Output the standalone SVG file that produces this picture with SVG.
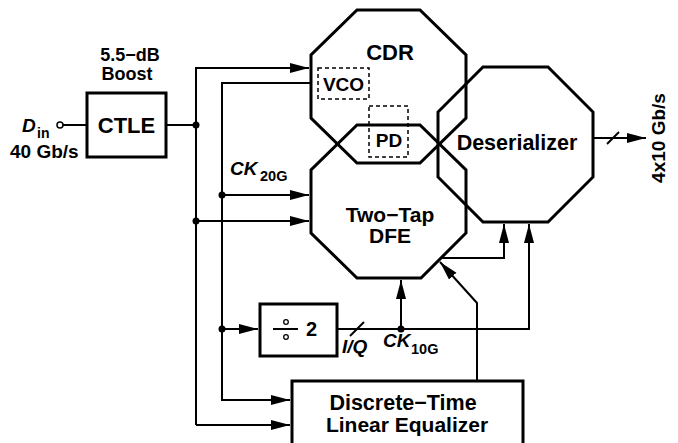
<svg xmlns="http://www.w3.org/2000/svg" width="678" height="443" viewBox="0 0 678 443">
<style>
.blk{fill:none;stroke:#000;stroke-width:3;stroke-linejoin:miter}
.dash{fill:none;stroke:#000;stroke-width:1.5;stroke-dasharray:4,3}
.w{fill:none;stroke:#000;stroke-width:2}
.t{font-family:"Liberation Sans",Arial,sans-serif;font-weight:bold;fill:#000}
.it{font-family:"Liberation Sans",Arial,sans-serif;font-weight:bold;font-style:italic;fill:#000}
.dot{fill:#000}
</style>
<defs>
<marker id="ah" markerUnits="userSpaceOnUse" markerWidth="20" markerHeight="12" refX="19" refY="6" orient="auto" viewBox="0 0 20 12">
<path d="M0,1 L19,6 L0,11 z" fill="#000"/>
</marker>
</defs>
<rect width="678" height="443" fill="#fff"/>

<g id="connectors">
<circle cx="60" cy="125" r="3" fill="#fff" stroke="#000" stroke-width="1.5"/>
<line class="w" x1="63" y1="125" x2="87" y2="125"/>
<line class="w" x1="166" y1="125" x2="196" y2="125"/>
<path class="w" d="M196,425 V68 H309" marker-end="url(#ah)"/>
<path class="w" d="M311,83 H222 V400 H290" marker-end="url(#ah)"/>
<path class="w" d="M196,425 H290" marker-end="url(#ah)"/>
<path class="w" d="M222,195 H309" marker-end="url(#ah)"/>
<path class="w" d="M196,221 H309" marker-end="url(#ah)"/>
<path class="w" d="M222,329 H258" marker-end="url(#ah)"/>
<path class="w" d="M337,329 H529 V224" marker-end="url(#ah)"/>
<line class="w" x1="350" y1="336" x2="364" y2="322"/>
<path class="w" d="M401,329 V280" marker-end="url(#ah)"/>
<path class="w" d="M442,258 H504 V224" marker-end="url(#ah)"/>
<path class="w" d="M477,381 V303 L440,262" marker-end="url(#ah)"/>
<path class="w" d="M593,138 H646" marker-end="url(#ah)"/>
<line class="w" x1="607" y1="144" x2="619" y2="132"/>
<circle class="dot" cx="196" cy="125" r="3.5"/>
<circle class="dot" cx="222" cy="195" r="3.5"/>
<circle class="dot" cx="196" cy="221" r="3.5"/>
<circle class="dot" cx="222" cy="329" r="3.5"/>
<circle class="dot" cx="401" cy="329" r="3.5"/>
</g>

<g id="input">
<text class="it" x="22" y="132" font-size="19">D</text>
<text class="t" x="37" y="138" font-size="14">in</text>
<text class="t" x="10" y="158" font-size="19">40 Gb/s</text>
</g>

<g id="ctle">
<rect class="blk" x="87" y="93" width="79" height="64"/>
<text class="t" x="126.5" y="133" font-size="22" text-anchor="middle">CTLE</text>
<text class="t" x="130" y="61" font-size="18" text-anchor="middle">5.5−dB</text>
<text class="t" x="127" y="80" font-size="18" text-anchor="middle">Boost</text>
</g>

<g id="cdr">
<polygon class="blk" points="357,10 420,10 466,55 466,118 420,163 357,163 311,118 311,55"/>
<text class="t" x="390" y="60" font-size="22" text-anchor="middle">CDR</text>
<rect class="dash" x="318" y="68" width="51" height="31"/>
<text class="t" x="343.5" y="90.5" font-size="19" text-anchor="middle">VCO</text>
<rect class="dash" x="369" y="106" width="39" height="51"/>
<text class="t" x="389" y="147" font-size="19" text-anchor="middle">PD</text>
</g>

<g id="dfe">
<polygon class="blk" points="357,125 420,125 466,170 466,233 421,278 357,278 311,233 311,170"/>
<text class="t" x="390" y="222" font-size="21" text-anchor="middle">Two−Tap</text>
<text class="t" x="390" y="243" font-size="21" text-anchor="middle">DFE</text>
</g>

<g id="deserializer">
<polygon class="blk" points="483,67 548,67 593,112 593,177 548,222 483,222 438,177 438,112"/>
<text class="t" x="517" y="150" font-size="21.5" text-anchor="middle">Deserializer</text>
<text class="t" x="0" y="0" font-size="19" text-anchor="middle" transform="translate(665,138) rotate(-90)">4x10 Gb/s</text>
</g>

<g id="ck20g">
<text class="it" x="230" y="175" font-size="19">CK</text>
<text class="t" x="260" y="181" font-size="14.5">20G</text>
</g>

<g id="divider">
<rect class="blk" x="260" y="304" width="77" height="52"/>
<line x1="273" y1="329" x2="298" y2="329" stroke="#000" stroke-width="2"/>
<circle cx="286" cy="322" r="2.3" fill="none" stroke="#000" stroke-width="1.3"/>
<circle cx="286" cy="337" r="2.3" fill="none" stroke="#000" stroke-width="1.3"/>
<text class="t" x="306" y="336" font-size="20">2</text>
<text class="it" x="342" y="353" font-size="19">I/Q</text>
</g>

<g id="ck10g">
<text class="it" x="383" y="347" font-size="19">CK</text>
<text class="t" x="411" y="354" font-size="14.5">10G</text>
</g>

<g id="dtle">
<rect class="blk" x="292" y="381" width="231" height="70"/>
<text class="t" x="403" y="410" font-size="21.5" text-anchor="middle">Discrete−Time</text>
<text class="t" x="407" y="432" font-size="21" text-anchor="middle">Linear Equalizer</text>
</g>
</svg>
